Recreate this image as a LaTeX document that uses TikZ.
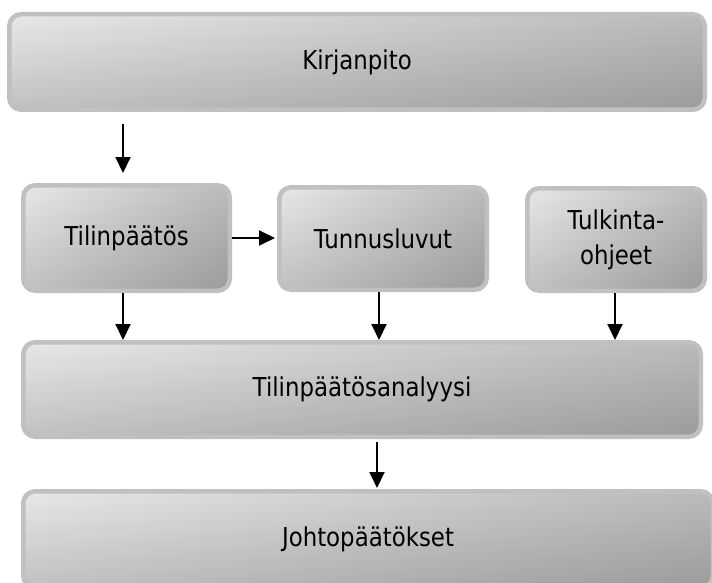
\documentclass[tikz,border=0pt]{standalone}
\usepackage{fontspec}
\setmainfont{DejaVu Sans}[FakeStretch=0.88]
\usetikzlibrary{arrows.meta,fadings}
\definecolor{boxlight}{HTML}{E8E8E8}
\definecolor{boxright}{HTML}{BBBBBB}
\definecolor{boxline}{HTML}{C0C0C0}
\tikzfading[name=fade down, top color=transparent!100, bottom color=transparent!0]
\tikzset{
	box/.style={draw=boxline, line width=4.5pt, rounded corners=12pt, left color=boxlight, right color=boxright, inner sep=0pt, align=center, font=\fontsize{26}{35}\selectfont,
		path picture={\fill[black, fill opacity=0.17, path fading=fade down] (path picture bounding box.south west) rectangle (path picture bounding box.north east);}},
	arrow/.style={line width=2pt, -{Triangle[length=16pt,width=15pt]}}
}
\begin{document}
\begin{tikzpicture}[x=1pt,y=-1pt]
	\useasboundingbox (0,0) rectangle (712,583);
	\clip (0,0) rectangle (712,583);
	\node[box, minimum width=695.5pt, minimum height=95.5pt] (kirjanpito) at (357,62) {Kirjanpito};
	\node[box, minimum width=206.5pt, minimum height=105.5pt] (tilinpaatos) at (126.5,238) {Tilinpäätös};
	\node[box, minimum width=207.5pt, minimum height=102.5pt] (tunnusluvut) at (383,238.5) {Tunnusluvut};
	\node[box, minimum width=177.5pt, minimum height=102.5pt] (tulkinta) at (616,239.5) {Tulkinta-\\ohjeet};
	\node[box, minimum width=677.5pt, minimum height=94.5pt] (analyysi) at (362,389.5) {Tilinpäätösanalyysi};
	\node[box, minimum width=689.5pt, minimum height=96.5pt] (johto) at (368,539.5) {Johtopäätökset};
	\draw[arrow, shorten <=12pt, shorten >=10pt] ([xshift=-3.5pt]tilinpaatos.north |- kirjanpito.south) -- ([xshift=-3.5pt]tilinpaatos.north);
	\draw[arrow, shorten >=2pt] (tilinpaatos.east) -- (tilinpaatos.east -| tunnusluvut.west);
	\draw[arrow] ([xshift=-3.5pt]tilinpaatos.south) -- ([xshift=-3.5pt]tilinpaatos.south |- analyysi.north);
	\draw[arrow] ([xshift=-4pt]tunnusluvut.south) -- ([xshift=-4pt]tunnusluvut.south |- analyysi.north);
	\draw[arrow] ([xshift=-1pt]tulkinta.south) -- ([xshift=-1pt]tulkinta.south |- analyysi.north);
	\draw[arrow, shorten <=3pt, shorten >=1pt] ([xshift=15pt]analyysi.south) -- ([xshift=15pt]analyysi.south |- johto.north);
\end{tikzpicture}
\end{document}
